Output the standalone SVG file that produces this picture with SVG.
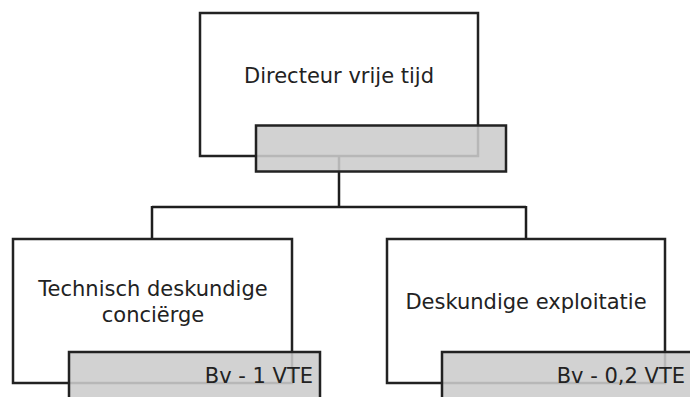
<svg xmlns="http://www.w3.org/2000/svg" width="690" height="397" viewBox="0 0 690 397">
<style>
.box{fill:#ffffff;stroke:#222222;stroke-width:2.5}
.tag{fill:#cccccc;fill-opacity:0.88;stroke:#222222;stroke-width:2.5}
.con{fill:none;stroke:#1e1e1e;stroke-width:2.5}
text{font-family:"DejaVu Sans",sans-serif;font-size:21px;fill:#222222}
.c{text-anchor:middle}
.r{text-anchor:end}
</style>
<rect width="690" height="397" fill="#ffffff"/>
<g id="n1">
<rect class="box" x="200" y="13" width="278" height="143"/>
<text class="c" x="339" y="83">Directeur vrije tijd</text>
</g>
<g id="connectors">
<path class="con" d="M339 156 V207 M152 207 H526 M152 206 V239 M526 206 V239"/>
</g>
<rect class="tag" x="256" y="125.5" width="250" height="46"/>
<g id="n2">
<rect class="box" x="13" y="239" width="279" height="144"/>
<text class="c" x="153" y="296">Technisch deskundige</text>
<text class="c" x="153" y="322">conciërge</text>
<rect class="tag" x="69" y="352" width="251" height="47"/>
<text class="r" x="313" y="383">Bv - 1 VTE</text>
</g>
<g id="n3">
<rect class="box" x="387" y="239" width="278" height="144"/>
<text class="c" x="526" y="309">Deskundige exploitatie</text>
<rect class="tag" x="442" y="352" width="251" height="47"/>
<text class="r" x="685" y="383">Bv - 0,2 VTE</text>
</g>
</svg>
